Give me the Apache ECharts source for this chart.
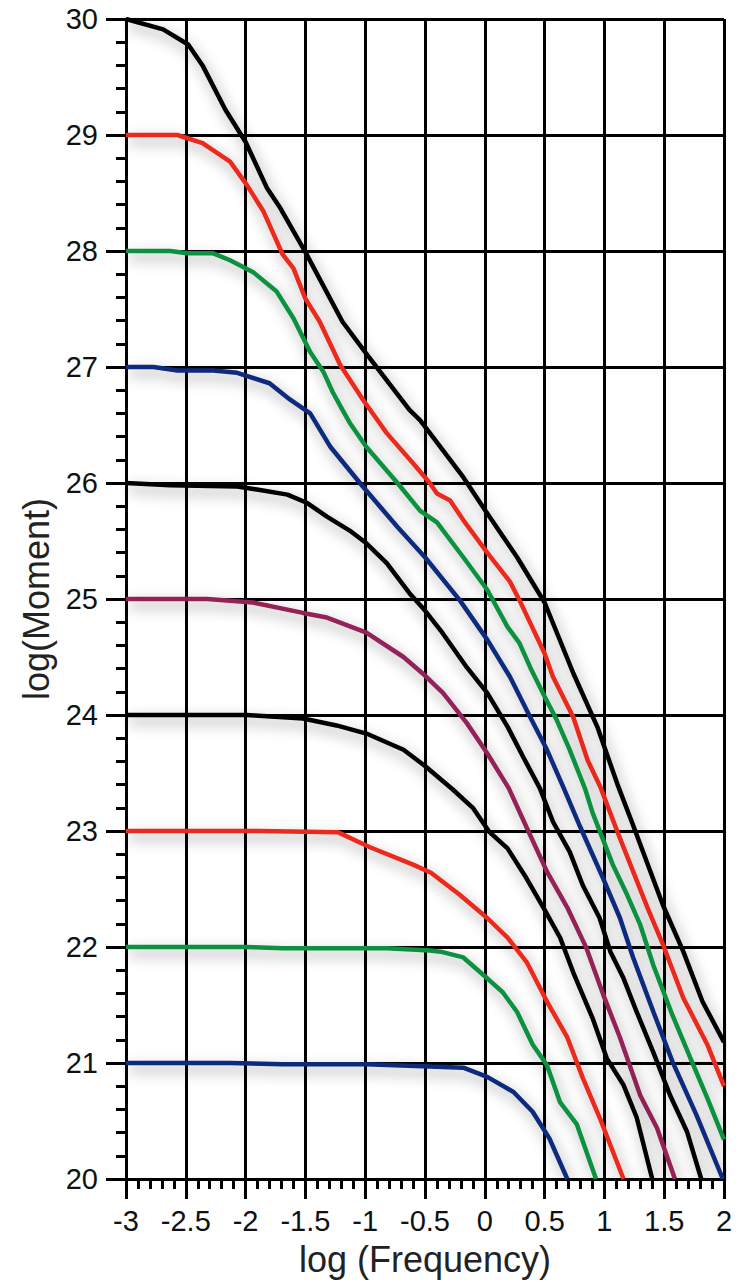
<!DOCTYPE html>
<html>
<head>
<meta charset="utf-8">
<script src="https://cdn.jsdelivr.net/npm/echarts@6/dist/echarts.min.js"></script>
<style>
  html, body { margin: 0; padding: 0; background: #fff; }
  #chart { width: 738px; height: 1282px; }
</style>
</head>
<body>
<div id="chart"></div>
<script>
// x = log(Frequency), y = log(Moment); one curve per plateau value
var m30 = [[-3,30],[-2.69,29.91],[-2.48,29.78],[-2.36,29.6],[-2.17,29.22],[-2,28.94],[-1.82,28.54],[-1.71,28.37],[-1.5,27.99],[-1.19,27.39],[-0.98,27.1],[-0.63,26.63],[-0.54,26.54],[-0.18,26.05],[0,25.77],[0.27,25.36],[0.5,24.97],[0.74,24.36],[0.94,23.9],[1.11,23.4],[1.24,23.05],[1.49,22.36],[1.66,21.96],[1.82,21.53],[2,21.18]];
var m29 = [[-3,29],[-2.57,29],[-2.36,28.93],[-2.13,28.77],[-1.99,28.57],[-1.85,28.34],[-1.69,27.97],[-1.6,27.85],[-1.5,27.59],[-1.38,27.39],[-1.21,27.02],[-1.02,26.72],[-0.82,26.43],[-0.6,26.17],[-0.46,26.0],[-0.4,25.91],[-0.29,25.85],[-0.18,25.68],[0.02,25.4],[0.21,25.15],[0.29,24.99],[0.5,24.53],[0.57,24.33],[0.74,23.98],[0.86,23.61],[0.97,23.37],[1.11,22.99],[1.21,22.73],[1.36,22.34],[1.49,22.02],[1.66,21.56],[1.86,21.16],[2,20.8]];
var m28 = [[-3,28],[-2.63,28],[-2.49,27.98],[-2.27,27.98],[-2.13,27.92],[-1.94,27.82],[-1.74,27.65],[-1.6,27.42],[-1.46,27.13],[-1.35,26.96],[-1.27,26.78],[-1.19,26.63],[-1.13,26.52],[-0.99,26.31],[-0.73,26.0],[-0.54,25.76],[-0.4,25.66],[-0.18,25.36],[0.02,25.08],[0.19,24.76],[0.29,24.62],[0.38,24.41],[0.5,24.16],[0.6,23.96],[0.71,23.7],[0.84,23.36],[0.9,23.16],[1.07,22.71],[1.19,22.45],[1.3,22.19],[1.41,21.84],[1.57,21.41],[1.72,21.04],[1.86,20.7],[2,20.34]];
var m27 = [[-3,27],[-2.77,27],[-2.57,26.97],[-2.27,26.97],[-2.07,26.95],[-1.8,26.86],[-1.63,26.72],[-1.46,26.6],[-1.29,26.31],[-1.02,25.97],[-0.73,25.62],[-0.5,25.36],[-0.21,24.99],[0.02,24.65],[0.21,24.33],[0.38,23.98],[0.52,23.7],[0.66,23.37],[0.8,23.03],[0.99,22.59],[1.13,22.25],[1.24,21.91],[1.41,21.44],[1.57,21.01],[1.77,20.55],[1.99,20]];
var m26 = [[-3,26],[-2.63,25.98],[-2.07,25.97],[-1.88,25.94],[-1.65,25.9],[-1.49,25.83],[-1.32,25.71],[-1.13,25.59],[-0.99,25.48],[-0.82,25.31],[-0.63,25.05],[-0.5,24.9],[-0.37,24.73],[-0.15,24.41],[0.02,24.19],[0.19,23.9],[0.32,23.64],[0.46,23.37],[0.57,23.08],[0.71,22.82],[0.82,22.53],[0.96,22.25],[1.05,21.96],[1.16,21.73],[1.27,21.44],[1.41,21.09],[1.55,20.72],[1.69,20.41],[1.81,20]];
var m25 = [[-3,25],[-2.32,25],[-1.94,24.97],[-1.52,24.88],[-1.32,24.84],[-0.99,24.71],[-0.68,24.5],[-0.5,24.34],[-0.35,24.19],[-0.15,23.93],[0.02,23.67],[0.2,23.37],[0.35,23.03],[0.52,22.65],[0.69,22.34],[0.85,21.99],[0.99,21.59],[1.13,21.22],[1.3,20.72],[1.44,20.44],[1.59,20]];
var m24 = [[-3,24],[-1.99,24],[-1.52,23.97],[-1.24,23.91],[-0.99,23.84],[-0.68,23.7],[-0.5,23.56],[-0.27,23.36],[-0.1,23.2],[0.04,22.99],[0.19,22.85],[0.35,22.59],[0.49,22.34],[0.63,22.08],[0.74,21.78],[0.9,21.39],[1.02,21.04],[1.16,20.81],[1.27,20.53],[1.4,20]];
var m23 = [[-3,23],[-1.88,23],[-1.23,22.99],[-0.96,22.86],[-0.6,22.71],[-0.45,22.64],[-0.21,22.45],[0.02,22.25],[0.19,22.08],[0.35,21.87],[0.52,21.53],[0.69,21.22],[0.82,20.87],[0.96,20.53],[1.16,20]];
var m22 = [[-3,22],[-1.99,22],[-1.69,21.99],[-0.82,21.99],[-0.46,21.97],[-0.37,21.96],[-0.18,21.91],[0.02,21.73],[0.15,21.61],[0.27,21.44],[0.4,21.16],[0.52,20.98],[0.63,20.66],[0.77,20.47],[0.93,20]];
var m21 = [[-3,21],[-2.13,21],[-1.69,20.99],[-0.99,20.99],[-0.46,20.97],[-0.18,20.96],[0.02,20.88],[0.24,20.75],[0.4,20.58],[0.54,20.35],[0.69,20]];

var curves = [m30, m29, m28, m27, m26, m25, m24, m23, m22, m21];
var colors = ['#000000', '#ea2a1f', '#0b9140', '#0b2a7c', '#000000', '#932457', '#000000', '#ea2a1f', '#0b9140', '#0b2a7c'];

// svg renderer: the canvas one dropped the drop shadows here
var chart = echarts.init(document.getElementById('chart'), null, { renderer: 'svg' });

var gridLine = { color: '#000', width: 3 };
var tickLine = { color: '#000', width: 3 };
var labelFont = { fontFamily: 'Liberation Sans', fontSize: 29, color: '#111' };
var nameFont = { fontFamily: 'Liberation Sans', fontSize: 36, color: '#222' };

chart.setOption({
  backgroundColor: '#fff',
  animation: false,
  grid: { left: 126, right: 14, top: 19, bottom: 103 },
  xAxis: {
    type: 'value',
    min: -3, max: 2, interval: 0.5,
    name: 'log (Frequency)',
    nameLocation: 'middle',
    nameGap: 62,
    nameTextStyle: nameFont,
    axisLine: { onZero: false, lineStyle: tickLine },
    axisTick: { length: 20, lineStyle: tickLine },
    minorTick: { show: true, splitNumber: 5, length: 10, lineStyle: tickLine },
    axisLabel: Object.assign({ margin: 27 }, labelFont),
    splitLine: { show: true, lineStyle: gridLine }
  },
  yAxis: {
    type: 'value',
    min: 20, max: 30, interval: 1,
    name: 'log(Moment)',
    nameLocation: 'middle',
    nameGap: 66,
    nameTextStyle: nameFont,
    axisLine: { show: true, onZero: false, lineStyle: tickLine },
    axisTick: { show: true, length: 20, lineStyle: tickLine },
    minorTick: { show: true, splitNumber: 5, length: 10, lineStyle: tickLine },
    axisLabel: Object.assign({ margin: 28 }, labelFont),
    splitLine: { show: true, lineStyle: gridLine }
  },
  series: curves.map(function (d, i) {
    return {
      type: 'line',
      data: d,
      showSymbol: false,
      lineStyle: {
        color: colors[i], width: 4.5,
        shadowColor: 'rgba(0,0,0,0.4)', shadowBlur: 14,
        shadowOffsetX: 3, shadowOffsetY: 6
      }
    };
  })
});
</script>
</body>
</html>
